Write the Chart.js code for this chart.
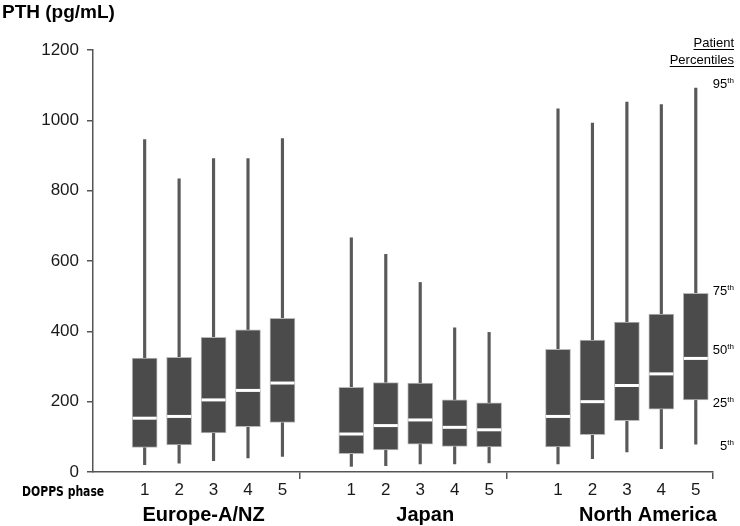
<!DOCTYPE html>
<html>
<head>
<meta charset="utf-8">
<script src="https://cdn.jsdelivr.net/npm/chart.js@4.4.1/dist/chart.umd.min.js"></script>
<style>
  body { margin: 0; background: #fff; }
</style>
</head>
<body>
<canvas id="myChart" width="740" height="526"></canvas>
<script>
// DOPPS phases, one blank slot before each region
var regions = ["Europe-A/NZ", "Japan", "North America"];
var phases = ["1", "2", "3", "4", "5"];

// PTH percentiles (pg/mL), 5 phases per region, Europe / Japan / North America
var p95 = [945, 834, 891, 891, 948,   666, 619, 539, 410, 397,   1033, 992, 1052, 1045, 1092];
var p75 = [324, 326, 383, 404, 437,   241, 254, 253, 205, 197,   349, 375, 426, 449, 508];
var p50 = [153, 158, 205, 232, 253,   108, 132, 148, 127, 120,   158, 200, 246, 279, 323];
var p25 = [70, 77, 111, 129, 141,     52, 63, 79, 73, 71,        71, 106, 146, 179, 205];
var p5  = [21, 25, 32, 40, 44,        16, 18, 23, 23, 26,        23, 38, 57, 66, 79];

var yTicks = [0, 200, 400, 600, 800, 1000, 1200];

// build 18 slots: blank + 5 phases for each region
var labels = [], boxes = [], whiskers = [], medians = [];
regions.forEach(function (r, g) {
  labels.push("");
  boxes.push(null); whiskers.push(null); medians.push(null);
  phases.forEach(function (p, i) {
    var k = g * 5 + i;
    labels.push(p);
    boxes.push([p25[k], p75[k]]);
    whiskers.push([p5[k], p95[k]]);
    medians.push(p50[k]);
  });
});

var lineCol = "#555";
var textCol = "#1a1a1a";

var annotations = {
  id: "annotations",
  afterDraw: function (chart) {
    var c = chart.ctx;
    var x = chart.scales.x, y = chart.scales.y;
    c.save();
    c.fillStyle = "#000";
    c.textBaseline = "alphabetic";

    // axis title
    c.textAlign = "left";
    c.font = "bold 19px 'Liberation Sans', Arial, sans-serif";
    c.fillText("PTH (pg/mL)", 2, 18);

    // DOPPS phase
    c.font = "bold 14px 'DejaVu Sans Condensed', 'DejaVu Sans', sans-serif";
    c.save();
    c.translate(22, 496);
    c.scale(0.86, 1);
    c.fillText("DOPPS phase", 0, 0);
    c.restore();

    // region names
    c.textAlign = "center";
    c.font = "bold 20px 'Liberation Sans', Arial, sans-serif";
    var shift = [-10, 5, 21];
    regions.forEach(function (r, g) {
      var px = x.getPixelForValue(g * 6 + 3) + shift[g];
      c.fillText(r, px, 521);
    });

    // patient percentiles key, placed beside the last box
    c.textAlign = "right";
    c.font = "13px 'Liberation Sans', Arial, sans-serif";
    var rx = 734;
    ["Patient", "Percentiles"].forEach(function (t, i) {
      var ty = 47 + i * 17;
      c.fillText(t, rx, ty);
      var w = c.measureText(t).width;
      c.fillRect(rx - w, ty + 2, w, 1);
    });
    var last = 14;
    var keys = [
      ["95", p95[last], 4],
      ["75", p75[last], 2],
      ["50", p50[last], 8],
      ["25", p25[last], -3],
      ["5", p5[last], -2]
    ];
    keys.forEach(function (kk) {
      var ty = y.getPixelForValue(kk[1]) - kk[2] + 4;
      c.font = "8px 'Liberation Sans', Arial, sans-serif";
      var tw = c.measureText("th").width;
      c.fillText("th", rx, ty - 5);
      c.font = "13px 'Liberation Sans', Arial, sans-serif";
      c.fillText(kk[0], rx - tw, ty);
    });
    c.restore();
  }
};

var ctx = document.getElementById("myChart").getContext("2d");
var myChart = new Chart(ctx, {
  type: "bar",
  data: {
    labels: labels,
    datasets: [{
      type: "line",
      data: medians,
      showLine: false,
      pointStyle: "line",
      pointRadius: 12,
      pointHoverRadius: 12,
      pointBorderWidth: 3,
      pointBorderColor: "#fff",
      pointBackgroundColor: "#fff"
    }, {
      data: boxes,
      grouped: false,
      barThickness: 25,
      backgroundColor: "#4b4b4b",
      borderColor: "#b8b8b8",
      borderWidth: 1,
      borderSkipped: false
    }, {
      data: whiskers,
      grouped: false,
      barThickness: 2.5,
      backgroundColor: "#595959",
      borderWidth: 0
    }]
  },
  options: {
    responsive: false,
    animation: false,
    layout: { padding: { top: 50, right: 27, left: 0, bottom: 0 } },
    plugins: {
      legend: { display: false },
      tooltip: { enabled: false }
    },
    scales: {
      x: {
        offset: true,
        afterFit: function (s) { s.height = 54; },
        grid: {
          offset: true,
          drawOnChartArea: false,
          tickLength: 7,
          lineWidth: 1.5,
          color: function (c) {
            if (c.type !== "tick") return lineCol;
            return (c.index > 0 && c.index % 6 === 0) ? lineCol : "rgba(0,0,0,0)";
          }
        },
        border: { display: true, color: lineCol, width: 1.5 },
        ticks: {
          autoSkip: false,
          maxRotation: 0,
          padding: 1,
          color: textCol,
          font: { family: "'Liberation Sans', Arial, sans-serif", size: 17 }
        }
      },
      y: {
        min: 0,
        max: 1200,
        afterFit: function (s) { s.width = 93; },
        afterBuildTicks: function (s) {
          s.ticks = yTicks.map(function (v) { return { value: v }; });
        },
        grid: {
          drawOnChartArea: false,
          tickLength: 6,
          lineWidth: 1.5,
          color: lineCol
        },
        border: { display: true, color: lineCol, width: 1.5 },
        ticks: {
          padding: 8,
          color: textCol,
          font: { family: "'Liberation Sans', Arial, sans-serif", size: 17 },
          callback: function (v) { return String(v); }
        }
      }
    }
  },
  plugins: [annotations]
});
</script>
</body>
</html>
